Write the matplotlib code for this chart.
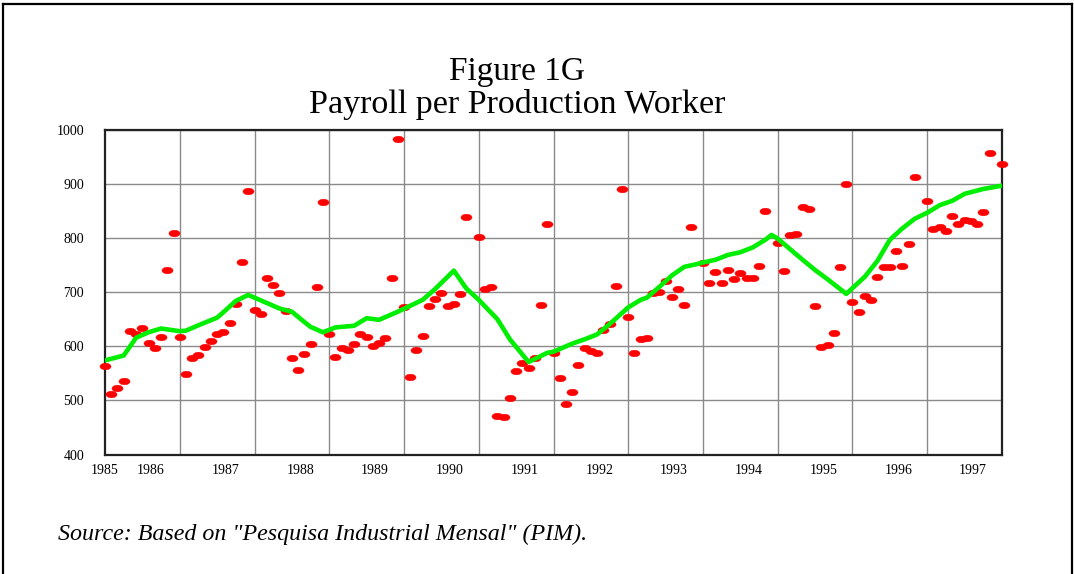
import numpy as np
import matplotlib
matplotlib.use("Agg")
import matplotlib.pyplot as plt
from matplotlib.path import Path
from matplotlib.lines import Line2D
import matplotlib.transforms as mtransforms

# ---------------- data (monthly, Jan 1985 = month 0) ----------------
# NaN = December values above the 1000 ceiling of the chart (not visible)
payroll = [
    563, 511, 523, 535, 628, 622, 633, 606, 596, 618, 742, 809,   # 1985
    617, 548, 578, 584, 598, 610, 623, 626, 644, 679, 756, 887,   # 1986
    667, 660, 727, 713, 698, 666, 579, 556, 585, 604, 710, 866,   # 1987
    622, 580, 597, 594, 604, 623, 618, 600, 607, 615, 727, 983,   # 1988
    673, 544, 593, 620, 675, 687, 699, 674, 679, 697, 839, np.nan,  # 1989
    803, 706, 709, 471, 469, 504, 554, 570, 560, 578, 676, 827,   # 1990
    587, 541, 494, 516, 566, 596, 591, 587, 631, 641, 712, 891,   # 1991
    654, 587, 613, 616, 698, 700, 720, 692, 706, 677, 821, np.nan,  # 1992
    754, 718, 738, 717, 741, 724, 735, 727, 727, 748, 851, np.nan,  # 1993
    791, 740, 806, 807, 857, 854, 674, 599, 602, 624, 746, 901,   # 1994
    682, 663, 693, 685, 728, 746, 746, 777, 749, 789, 913, np.nan,  # 1995
    869, 817, 821, 814, 841, 827, 834, 832, 827, 849, 957, np.nan,  # 1996
    937,                                                          # 1997
]

trend_month = [0, 3, 5, 7, 9, 12, 13, 15, 18, 19, 21, 23, 25, 28, 30, 32, 33,
               35, 37, 40, 42, 44, 47, 49, 51, 53, 56, 58, 60, 63, 65, 68, 71,
               72, 75, 77, 79, 81, 84, 86, 87, 89, 91, 93, 95, 96, 98, 100, 102,
               104, 106, 107, 108, 112, 114, 116, 119, 122, 124, 126, 128, 130,
               132, 134, 136, 138, 141, 144]
trend_value = [574, 583, 616, 626, 633, 628, 629, 639, 653, 663, 684, 695, 685,
               670, 664, 645, 636, 626, 635, 638, 652, 649, 664, 675, 686, 706,
               740, 707, 686, 650, 613, 571, 588, 590, 605, 613, 622, 641, 672,
               686, 690, 710, 731, 747, 752, 755, 760, 769, 774, 783, 797, 806,
               799, 760, 741, 724, 697, 729, 758, 797, 818, 836, 847, 861, 869,
               882, 891, 897]

year_labels = ["1985", "1986", "1987", "1988", "1989", "1990", "1991",
               "1992", "1993", "1994", "1995", "1996", "1997"]
y_ticks = [400, 500, 600, 700, 800, 900, 1000]

title_lines = ["Figure 1G", "Payroll per Production Worker"]
source_text = 'Source: Based on "Pesquisa Industrial Mensal" (PIM).'

# ---------------- figure ----------------
W, H = 1074, 574
fig = plt.figure(figsize=(W / 100, H / 100), dpi=100)
fig.patch.set_facecolor("white")

serif = ["Liberation Serif", "DejaVu Serif"]

# outer frame (bottom edge lies below the image)
fx0, fx1, fy0 = 2.5 / W, 1072.3 / W, 1 - 3.5 / H
for xs, ys in [([fx0, fx0], [-0.02, fy0]), ([fx0, fx1], [fy0, fy0]),
               ([fx1, fx1], [fy0, -0.02])]:
    fig.add_artist(Line2D(xs, ys, transform=fig.transFigure, color="black",
                          linewidth=1.6, solid_capstyle="projecting"))

ax_l, ax_r, ax_t, ax_b = 105, 1002, 130, 454.5
ax = fig.add_axes([ax_l / W, 1 - ax_b / H, (ax_r - ax_l) / W, (ax_b - ax_t) / H])

months = np.arange(len(payroll))
n_months = len(payroll) - 1
ax.set_xlim(0, n_months)
ax.set_ylim(y_ticks[0], y_ticks[-1])

# grid
ax.set_xticks(np.arange(12, n_months, 12), minor=True)
ax.grid(which="minor", axis="x", color="#8a8a8a", linewidth=1.0)
ax.set_yticks(y_ticks)
ax.grid(which="major", axis="y", color="#8a8a8a", linewidth=1.0)
ax.set_axisbelow(True)

# year labels (first at the origin, the others inside each year band)
label_pos = [0] + [7.35 + 12 * k for k in range(len(year_labels) - 1)]
ax.set_xticks(label_pos)
ax.set_xticklabels(year_labels, family=serif, fontsize=10)
ax.set_yticklabels([str(v) for v in y_ticks], family=serif, fontsize=10)
ax.tick_params(axis="both", which="both", length=0)
ax.tick_params(axis="x", pad=7)
ax.tick_params(axis="y", pad=15)

for s in ax.spines.values():
    s.set_color("#222222")
    s.set_linewidth(1.6)

# red elliptical markers
circ = Path.unit_circle()
ellipse = circ.transformed(mtransforms.Affine2D().scale(1.0, 0.6))
ax.plot(months, payroll, linestyle="none", marker=ellipse, markersize=8.0,
        markerfacecolor="#ff0000", markeredgecolor="#ff0000",
        markeredgewidth=0.3, zorder=3, clip_on=False)

# green trend line
ax.plot(trend_month, trend_value, color="#00ee00", linewidth=3.3,
        solid_capstyle="round", solid_joinstyle="round", zorder=4)

# titles
fig.text(517 / W, 1 - 80 / H, title_lines[0], ha="center", va="baseline",
         family=serif, fontsize=24)
fig.text(517 / W, 1 - 113 / H, title_lines[1], ha="center", va="baseline",
         family=serif, fontsize=24.5)

# source
fig.text(58 / W, 1 - 540 / H, source_text, ha="left", va="baseline",
         family=serif, style="italic", fontsize=17.3)

fig.savefig("out.png", dpi=100)
